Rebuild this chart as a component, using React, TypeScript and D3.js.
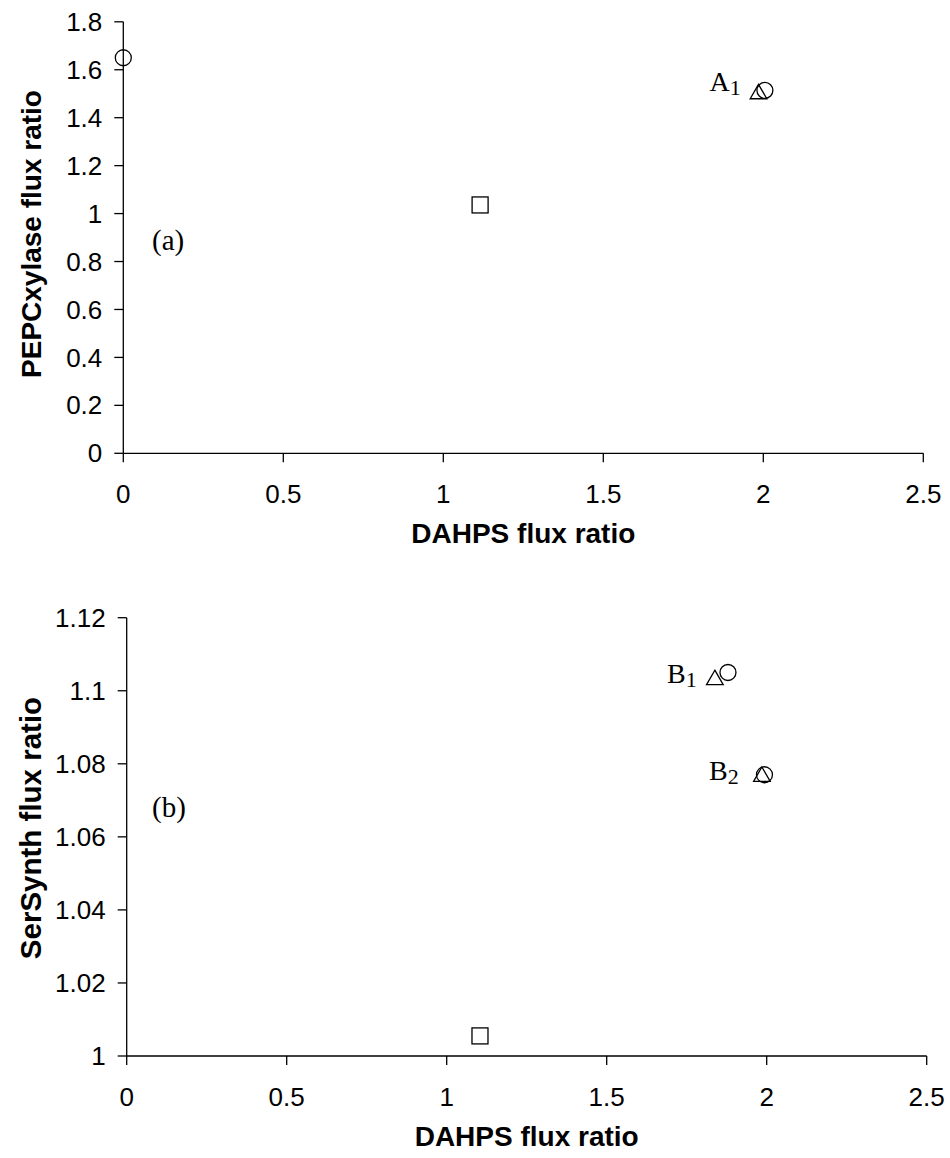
import React from "react";
import * as d3 from "d3";

const xTicks = [0, 0.5, 1, 1.5, 2, 2.5];
const xTickLabels = ["0", "0.5", "1", "1.5", "2", "2.5"];
const yTicksA = [0, 0.2, 0.4, 0.6, 0.8, 1, 1.2, 1.4, 1.6, 1.8];
const yTickLabelsA = ["0", "0.2", "0.4", "0.6", "0.8", "1", "1.2", "1.4", "1.6", "1.8"];
const yTicksB = [1, 1.02, 1.04, 1.06, 1.08, 1.1, 1.12];
const yTickLabelsB = ["1", "1.02", "1.04", "1.06", "1.08", "1.1", "1.12"];

const circlesA = [
  { x: 0, y: 1.65 },
  { x: 2.005, y: 1.514 },
];
const trianglesA = [{ x: 1.985, y: 1.499 }];
const squaresA = [{ x: 1.115, y: 1.036 }];

const circlesB = [
  { x: 1.879, y: 1.105 },
  { x: 1.993, y: 1.077 },
];
const trianglesB = [
  { x: 1.838, y: 1.103 },
  { x: 1.985, y: 1.0765 },
];
const squaresB = [{ x: 1.104, y: 1.0055 }];

type Pt = { x: number; y: number };

function Panel(props: {
  left: number; right: number; top: number; bottom: number;
  yDomain: [number, number]; yTicks: number[]; yLabels: string[];
  yTitle: string; yTitleCenter: number; yTitleSize: number;
  circles: Pt[]; triangles: Pt[]; squares: Pt[];
  children?: React.ReactNode;
}) {
  const { left, right, top, bottom } = props;
  const x = d3.scaleLinear().domain([0, 2.5]).range([left, right]);
  const y = d3.scaleLinear().domain(props.yDomain).range([bottom, top]);
  const tri = d3.symbol().type(d3.symbolTriangle).size(120)() as string;
  const sw = 1.3;
  return (
    <g>
      <line x1={left} x2={right} y1={bottom} y2={bottom} stroke="#000" strokeWidth={sw} />
      <line x1={left} x2={left} y1={top} y2={bottom} stroke="#000" strokeWidth={sw} />
      {xTicks.map((t, i) => (
        <g key={"x" + i}>
          <line x1={x(t)} x2={x(t)} y1={bottom} y2={bottom + 9} stroke="#000" strokeWidth={sw} />
          <text x={x(t)} y={bottom + 50} textAnchor="middle" fontFamily="Arial, 'Liberation Sans', sans-serif" fontSize={26}>{xTickLabels[i]}</text>
        </g>
      ))}
      {props.yTicks.map((t, i) => (
        <g key={"y" + i}>
          <line x1={left - 9} x2={left} y1={y(t)} y2={y(t)} stroke="#000" strokeWidth={sw} />
          <text x={left - 21} y={y(t)} dy="0.35em" textAnchor="end" fontFamily="Arial, 'Liberation Sans', sans-serif" fontSize={26}>{props.yLabels[i]}</text>
        </g>
      ))}
      <text x={(left + right) / 2} y={bottom + 90} textAnchor="middle" fontFamily="Arial, 'Liberation Sans', sans-serif" fontWeight="bold" fontSize={28}>DAHPS flux ratio</text>
      <text transform={`translate(41,${props.yTitleCenter}) rotate(-90)`} textAnchor="middle" fontFamily="Arial, 'Liberation Sans', sans-serif" fontWeight="bold" fontSize={props.yTitleSize}>{props.yTitle}</text>
      {props.squares.map((p, i) => (
        <rect key={"s" + i} x={x(p.x) - 8} y={y(p.y) - 8} width={16} height={16} fill="none" stroke="#000" strokeWidth={sw} />
      ))}
      {props.triangles.map((p, i) => (
        <path key={"t" + i} d={tri} transform={`translate(${x(p.x)},${y(p.y)})`} fill="none" stroke="#000" strokeWidth={sw} />
      ))}
      {props.circles.map((p, i) => (
        <circle key={"c" + i} cx={x(p.x)} cy={y(p.y)} r={8} fill="none" stroke="#000" strokeWidth={sw} />
      ))}
      {props.children}
    </g>
  );
}

const serif = "'Times New Roman', 'Liberation Serif', serif";

export default function App() {
  return (
    <svg width={950} height={1158} style={{ position: "absolute", left: 0, top: 0, background: "#fff" }}>
      <rect width={950} height={1158} fill="#fff" />
      <Panel left={123.3} right={923.3} top={21.8} bottom={453.3} yDomain={[0, 1.8]} yTicks={yTicksA} yLabels={yTickLabelsA}
        yTitle="PEPCxylase flux ratio" yTitleCenter={234} yTitleSize={28} circles={circlesA} triangles={trianglesA} squares={squaresA}>
        <text x={709.5} y={91} fontFamily={serif} fontSize={28}>A<tspan fontSize={22} dy={4}>1</tspan></text>
        <text x={152} y={250} fontFamily={serif} fontSize={29}>(a)</text>
      </Panel>
      <Panel left={126.7} right={926.7} top={617.7} bottom={1056} yDomain={[1, 1.12]} yTicks={yTicksB} yLabels={yTickLabelsB}
        yTitle="SerSynth flux ratio" yTitleCenter={828} yTitleSize={29.5} circles={circlesB} triangles={trianglesB} squares={squaresB}>
        <text x={667} y={683} fontFamily={serif} fontSize={28}>B<tspan fontSize={22} dy={4}>1</tspan></text>
        <text x={709} y={780} fontFamily={serif} fontSize={28}>B<tspan fontSize={22} dy={4}>2</tspan></text>
        <text x={152} y={817} fontFamily={serif} fontSize={29}>(b)</text>
      </Panel>
    </svg>
  );
}
